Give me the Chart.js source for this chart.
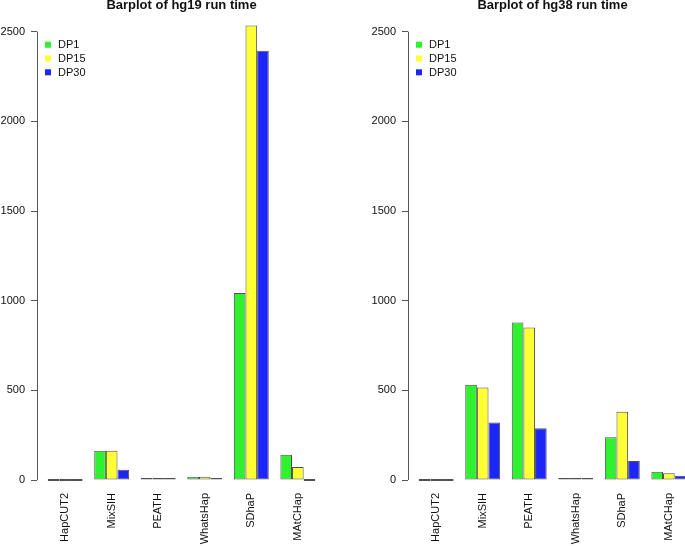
<!DOCTYPE html>
<html>
<head>
<meta charset="utf-8">
<title>Barplot of run time</title>
<script src="https://cdn.jsdelivr.net/npm/chart.js@4/dist/chart.umd.min.js"></script>
<style>
    body { margin: 0; width: 685px; height: 546px; overflow: hidden; position: relative; background: #fff; }
    .panel { position: absolute; top: -2px; width: 342px; height: 548px; }
</style>
</head>
<body>
<div class="panel" style="left:0"><canvas id="hg19"></canvas></div>
<div class="panel" style="left:371px"><canvas id="hg38"></canvas></div>
<script>
const tools = ['HapCUT2', 'MixSIH', 'PEATH', 'WhatsHap', 'SDhaP', 'MAtCHap'];
const depthLabels = ['DP1', 'DP15', 'DP30'];
const yTicks = [0, 500, 1000, 1500, 2000, 2500];

// run time in seconds
const hg19DP1 = [0, 163, 9, 18, 1043, 141];
const hg19DP15 = [0, 163, 8, 18, 2535, 73];
const hg19DP30 = [0, 57, 4, 4, 2394, 0];

const hg38DP1 = [0, 531, 878, 7, 238, 46];
const hg38DP15 = [0, 516, 850, 7, 380, 37];
const hg38DP30 = [0, 320, 289, 7, 106, 24];

const colors = ['#2ef22e', '#ffff33', '#1c26f7'];
const FONT = '"Liberation Sans", Arial, Helvetica, sans-serif';

// R style axis line: only spans the tick range
const axisLine = {
    id: 'axisLine',
    afterDraw(chart) {
        const { ctx, chartArea, scales } = chart;
        const x = Math.round(chartArea.left) + 0.5;
        ctx.save();
        ctx.strokeStyle = '#555';
        ctx.lineWidth = 1;
        ctx.beginPath();
        ctx.moveTo(x, scales.y.getPixelForValue(yTicks[0]));
        ctx.lineTo(x, scales.y.getPixelForValue(yTicks[yTicks.length - 1]));
        ctx.stroke();
        ctx.restore();
    }
};

// legend with filled squares in the top left of the plot
const squareLegend = {
    id: 'squareLegend',
    afterDraw(chart) {
        const { ctx, chartArea, scales } = chart;
        const x0 = chartArea.left + 8;
        let y = scales.y.getPixelForValue(yTicks[yTicks.length - 1]) + 13;
        ctx.save();
        ctx.font = '11px ' + FONT;
        ctx.textBaseline = 'middle';
        chart.data.datasets.forEach(ds => {
            ctx.fillStyle = ds.backgroundColor;
            ctx.fillRect(x0, y - 3, 6, 6);
            ctx.fillStyle = '#111';
            ctx.fillText(ds.label, x0 + 13, y + 0.5);
            y += 13.8;
        });
        ctx.restore();
    }
};

function makeChart(id, title, series) {
    const datasets = series.map((values, i) => ({
        label: depthLabels[i],
        data: values.map((v, j) => ({ x: j, y: v })),
        backgroundColor: colors[i],
        borderColor: '#505050',
        borderWidth: 1,
        borderSkipped: false,
        minBarLength: 2,
        barPercentage: 1,
        categoryPercentage: 0.75
    }));

    return new Chart(document.getElementById(id), {
        type: 'bar',
        data: { datasets: datasets },
        options: {
            responsive: true,
            maintainAspectRatio: false,
            animation: false,
            layout: { padding: { left: 0, right: 16, top: 0, bottom: 0 } },
            plugins: {
                legend: { display: false },
                tooltip: { enabled: false },
                title: {
                    display: true,
                    text: title,
                    fullSize: false,
                    color: '#111',
                    font: { family: FONT, size: 13, weight: 'bold' },
                    padding: { top: 0, bottom: 0 }
                }
            },
            scales: {
                x: {
                    type: 'linear',
                    min: -0.605,
                    max: 5.605,
                    offset: false,
                    grid: { display: false, drawTicks: false, offset: false },
                    border: { display: false },
                    afterBuildTicks: scale => { scale.ticks = tools.map((t, i) => ({ value: i })); },
                    afterFit: scale => { scale.height = 59; },
                    ticks: {
                        autoSkip: false,
                        maxRotation: 90,
                        minRotation: 90,
                        padding: 6,
                        color: '#111',
                        font: { family: FONT, size: 11 },
                        callback: v => tools[v]
                    }
                },
                y: {
                    min: -39,
                    max: 2601,
                    border: { display: false },
                    grid: { drawOnChartArea: false, drawTicks: true, tickLength: 6, color: '#555' },
                    afterBuildTicks: scale => { scale.ticks = yTicks.map(v => ({ value: v })); },
                    afterFit: scale => { scale.width = 37; },
                    ticks: {
                        padding: 6,
                        color: '#111',
                        font: { family: FONT, size: 11 },
                        callback: v => String(v)
                    }
                }
            }
        },
        plugins: [axisLine, squareLegend]
    });
}

makeChart('hg19', 'Barplot of hg19 run time', [hg19DP1, hg19DP15, hg19DP30]);
makeChart('hg38', 'Barplot of hg38 run time', [hg38DP1, hg38DP15, hg38DP30]);
</script>
</body>
</html>
